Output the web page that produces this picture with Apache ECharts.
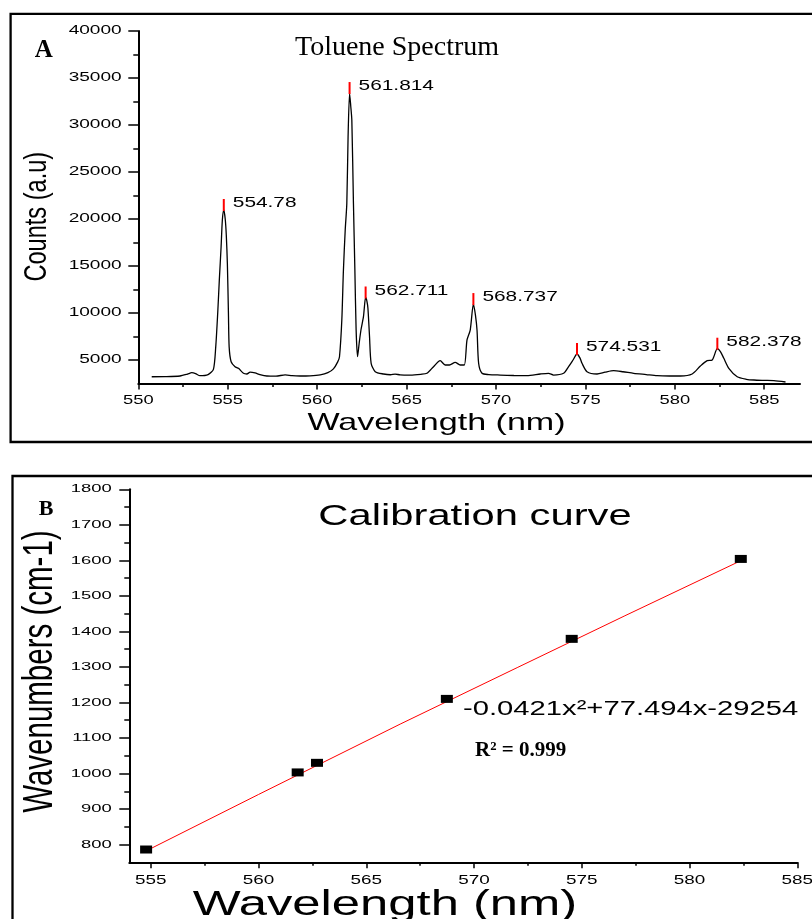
<!DOCTYPE html>
<html>
<head>
<meta charset="utf-8">
<script src="https://cdn.jsdelivr.net/npm/echarts@6/dist/echarts.min.js"></script>
<style>
  html, body { margin: 0; padding: 0; background: #fff; }
  #chart { width: 812px; height: 919px; }
</style>
</head>
<body>
<div id="chart"></div>
<script>
// ---- Panel A: toluene emission spectrum ----
const wavelength = [
  550.75, 551.5, 552.33, 552.75, 552.99, 553.2, 553.45, 553.9, 554.2, 554.33,
  554.44, 554.53, 554.63, 554.70, 554.78, 554.86, 554.92, 554.98, 555.04, 555.08,
  555.19, 555.41, 555.60, 555.88, 556.07, 556.25, 556.53, 556.8, 557.19, 557.7,
  558.21, 558.6, 559.05, 559.6, 560.17, 560.6, 560.91, 561.15, 561.25, 561.38,
  561.47, 561.57, 561.66, 561.73, 561.814, 561.88, 561.94, 562.03, 562.11, 562.18,
  562.26, 562.35, 562.45, 562.59, 562.711, 562.78, 562.84, 562.93, 563.02, 563.25,
  563.71, 564.1, 564.36, 564.64, 565.2, 565.8, 566.14, 566.51, 566.88, 567.16,
  567.40, 567.72, 568.0, 568.23, 568.38, 568.56, 568.737, 568.85, 568.94, 569.03,
  569.22, 569.6, 570.24, 571.0, 571.73, 572.48, 572.94, 573.22, 573.78, 574.06,
  574.31, 574.531, 574.7, 574.81, 575.09, 575.65, 576.1, 576.58, 577.1, 577.70,
  578.4, 579.01, 579.7, 580.31, 580.97, 581.43, 581.81, 582.09, 582.378, 582.55,
  582.74, 583.02, 583.49, 584.0, 584.42, 585.0, 585.54, 586.19
];
const counts = [
  3220, 3230, 3300, 3500, 3650, 3560, 3330, 3450, 4000, 6400,
  9970, 13500, 17050, 19890, 20960, 20000, 18300, 15290, 9970, 6400,
  4820, 4290, 4120, 3585, 3510, 3700, 3620, 3450, 3300, 3280,
  3420, 3330, 3300, 3320, 3420, 3650, 4050, 4800, 5350, 9255,
  14575, 18830, 21670, 28750, 33400, 32000, 30530, 21670, 14575, 8190,
  5350, 6780, 8190, 9610, 11650, 11300, 10500, 7480, 4650, 3755,
  3510, 3430, 3500, 3420, 3400, 3480, 3585, 4290, 4930, 4470,
  4470, 4750, 4470, 4470, 7130, 8190, 10950, 9800, 8190, 4650,
  3585, 3450, 3400, 3350, 3330, 3510, 3585, 3400, 3585, 4290,
  5000, 5640, 5200, 4650, 3755, 3510, 3700, 3860, 3750, 3585,
  3450, 3330, 3300, 3300, 3510, 4360, 4930, 5000, 6200, 5900,
  5180, 4120, 3220, 2950, 2870, 2830, 2800, 2660
];
const peakWavelengths = [554.78, 561.814, 562.711, 568.737, 574.531, 582.378];
const peakLabels = ['554.78', '561.814', '562.711', '568.737', '574.531', '582.378'];

const specXMajor = [550, 555, 560, 565, 570, 575, 580, 585];
const specXMinor = [552.5, 557.5, 562.5, 567.5, 572.5, 577.5, 582.5];
const specYMajor = [5000, 10000, 15000, 20000, 25000, 30000, 35000, 40000];
const specYMinor = [7500, 12500, 17500, 22500, 27500, 32500, 37500];

// ---- Panel B: calibration curve ----
const calibWavelength = [554.78, 561.814, 562.711, 568.737, 574.531, 582.378];
const calibWavenumber = [786, 1003, 1030, 1210, 1379, 1604];
const fitWavelength = [554.78, 560, 566.57, 572, 577, 582.38];
const fitWavenumber = [782, 941, 1139, 1298, 1444, 1599];

const calXMajor = [555, 560, 565, 570, 575, 580, 585];
const calXMinor = [557.5, 562.5, 567.5, 572.5, 577.5, 582.5];
const calYMajor = [800, 900, 1000, 1100, 1200, 1300, 1400, 1500, 1600, 1700, 1800];
const calYMinor = [850, 950, 1050, 1150, 1250, 1350, 1450, 1550, 1650, 1750];

const SANS = "'Liberation Sans', Arial, Helvetica, sans-serif";
const SERIF = "'Liberation Serif', 'Times New Roman', Times, serif";

const chart = echarts.init(document.getElementById('chart'), null, { renderer: 'canvas' });

function axis(gridIndex, min, max, ticks, len, showLine, position) {
  return {
    type: 'value', gridIndex, min, max, position,
    axisLine: { show: showLine, onZero: false, lineStyle: { color: '#000', width: 2 } },
    axisTick: { show: true, customValues: ticks, length: len, inside: false,
                lineStyle: { color: '#000', width: 1.5 } },
    axisLabel: { show: false },
    splitLine: { show: false },
    minorTick: { show: false }
  };
}

const peakData = peakWavelengths.map(w => [w, counts[wavelength.indexOf(w)]]);

chart.setOption({
  animation: false,
  backgroundColor: '#fff',
  grid: [
    { left: 138.3, top: 31, right: 12, bottom: 535.5, containLabel: false },
    { left: 129.3, top: 489.3, right: 14.7, bottom: 56.7, containLabel: false }
  ],
  xAxis: [
    axis(0, 550, 587, specXMajor, 6, true, 'bottom'),
    axis(0, 550, 587, specXMinor, 3.5, false, 'bottom'),
    axis(1, 554, 585, calXMajor, 6, true, 'bottom'),
    axis(1, 554, 585, calXMinor, 3.5, false, 'bottom')
  ],
  yAxis: [
    axis(0, 2500, 40000, specYMajor, 10, true, 'left'),
    axis(0, 2500, 40000, specYMinor, 5, false, 'left'),
    axis(1, 750, 1800, calYMajor, 10, true, 'left'),
    axis(1, 750, 1800, calYMinor, 5, false, 'left')
  ],
  series: [
    {
      type: 'line', xAxisIndex: 0, yAxisIndex: 0,
      data: wavelength.map((w, i) => [w, counts[i]]),
      symbol: 'none', smooth: 0.25,
      lineStyle: { color: '#000', width: 1.3 }, z: 2
    },
    {
      type: 'scatter', xAxisIndex: 0, yAxisIndex: 0,
      data: peakData, symbol: 'rect', symbolSize: [2, 12], symbolOffset: [0, -5],
      itemStyle: { color: '#ff0000', opacity: 1 }, z: 3
    },
    {
      type: 'line', xAxisIndex: 2, yAxisIndex: 2,
      data: fitWavelength.map((w, i) => [w, fitWavenumber[i]]),
      symbol: 'none', lineStyle: { color: '#ff0000', width: 1 }, z: 2
    },
    {
      type: 'scatter', xAxisIndex: 2, yAxisIndex: 2,
      data: calibWavelength.map((w, i) => [w, calibWavenumber[i]]),
      symbol: 'rect', symbolSize: [12, 8], itemStyle: { color: '#000', opacity: 1 }, z: 4
    }
  ]
});

// Text elements (the sans-serif lettering is horizontally stretched)
function txt(text, x, y, o) {
  return {
    type: 'text', x, y, silent: true,
    scaleX: o.sx || 1, scaleY: o.sy || 1, rotation: o.rot || 0,
    style: {
      text, fill: '#000',
      fontSize: o.size, fontFamily: o.family || SANS, fontWeight: o.weight || 'normal',
      align: o.align || 'center', verticalAlign: o.valign || 'middle'
    },
    z: 10
  };
}

const g = [];
// panel frames
g.push({ type: 'rect', silent: true, shape: { x: 10.6, y: 13.8, width: 830, height: 428.2 },
         style: { fill: 'none', stroke: '#000', lineWidth: 2.3 }, z: 1 });
g.push({ type: 'rect', silent: true, shape: { x: 12.5, y: 476, width: 830, height: 480 },
         style: { fill: 'none', stroke: '#000', lineWidth: 2.3 }, z: 1 });

const pA = v => chart.convertToPixel({ gridIndex: 0 }, v);
const pB = v => chart.convertToPixel({ gridIndex: 1 }, v);

// Panel A tick labels
specXMajor.forEach(v => { const p = pA([v, 2500]); g.push(txt(String(v), p[0], 400.5, { size: 13, sx: 1.41 })); });
specYMajor.forEach(v => { const p = pA([550, v]); g.push(txt(String(v), 121.7, p[1], { size: 12, sx: 1.59, align: 'right' })); });
// Panel A peak labels
peakData.forEach((d, i) => {
  const p = pA(d);
  g.push(txt(peakLabels[i], p[0] + 9, p[1] - 7, { size: 15, sx: 1.39, align: 'left' }));
});
// Panel A titles
g.push(txt('A', 43.8, 50.5, { size: 25, family: SERIF, weight: 'bold' }));
g.push(txt('Toluene Spectrum', 295, 47.5, { size: 28, family: SERIF, align: 'left' }));
g.push(txt('Wavelength (nm)', 436.5, 423, { size: 24, sx: 1.42 }));
g.push(txt('Counts (a.u)', 37.7, 216.7, { size: 23.6, sy: 1.35, rot: Math.PI / 2 }));

// Panel B tick labels
calXMajor.forEach(v => { const p = pB([v, 750]); g.push(txt(String(v), p[0], 880.5, { size: 12.6, sx: 1.5 })); });
calYMajor.forEach(v => { const p = pB([554, v]); g.push(txt(String(v), 111.7, p[1], { size: 11.5, sx: 1.6, align: 'right' })); });
// Panel B titles and annotations
g.push(txt('B', 46, 509, { size: 22, family: SERIF, weight: 'bold' }));
g.push(txt('Calibration curve', 475, 517, { size: 29, sx: 1.44 }));
g.push(txt('-0.0421x²+77.494x-29254', 463, 709, { size: 20, sx: 1.46, align: 'left' }));
g.push(txt('R² = 0.999', 475, 750.5, { size: 21, family: SERIF, weight: 'bold', align: 'left' }));
g.push(txt('Wavelength (nm)', 385, 905.5, { size: 35, sx: 1.45 }));
g.push(txt('Wavenumbers (cm-1)', 40.3, 671.6, { size: 29.5, sy: 1.41, rot: Math.PI / 2 }));

chart.setOption({ graphic: { elements: g } });
</script>
</body>
</html>
